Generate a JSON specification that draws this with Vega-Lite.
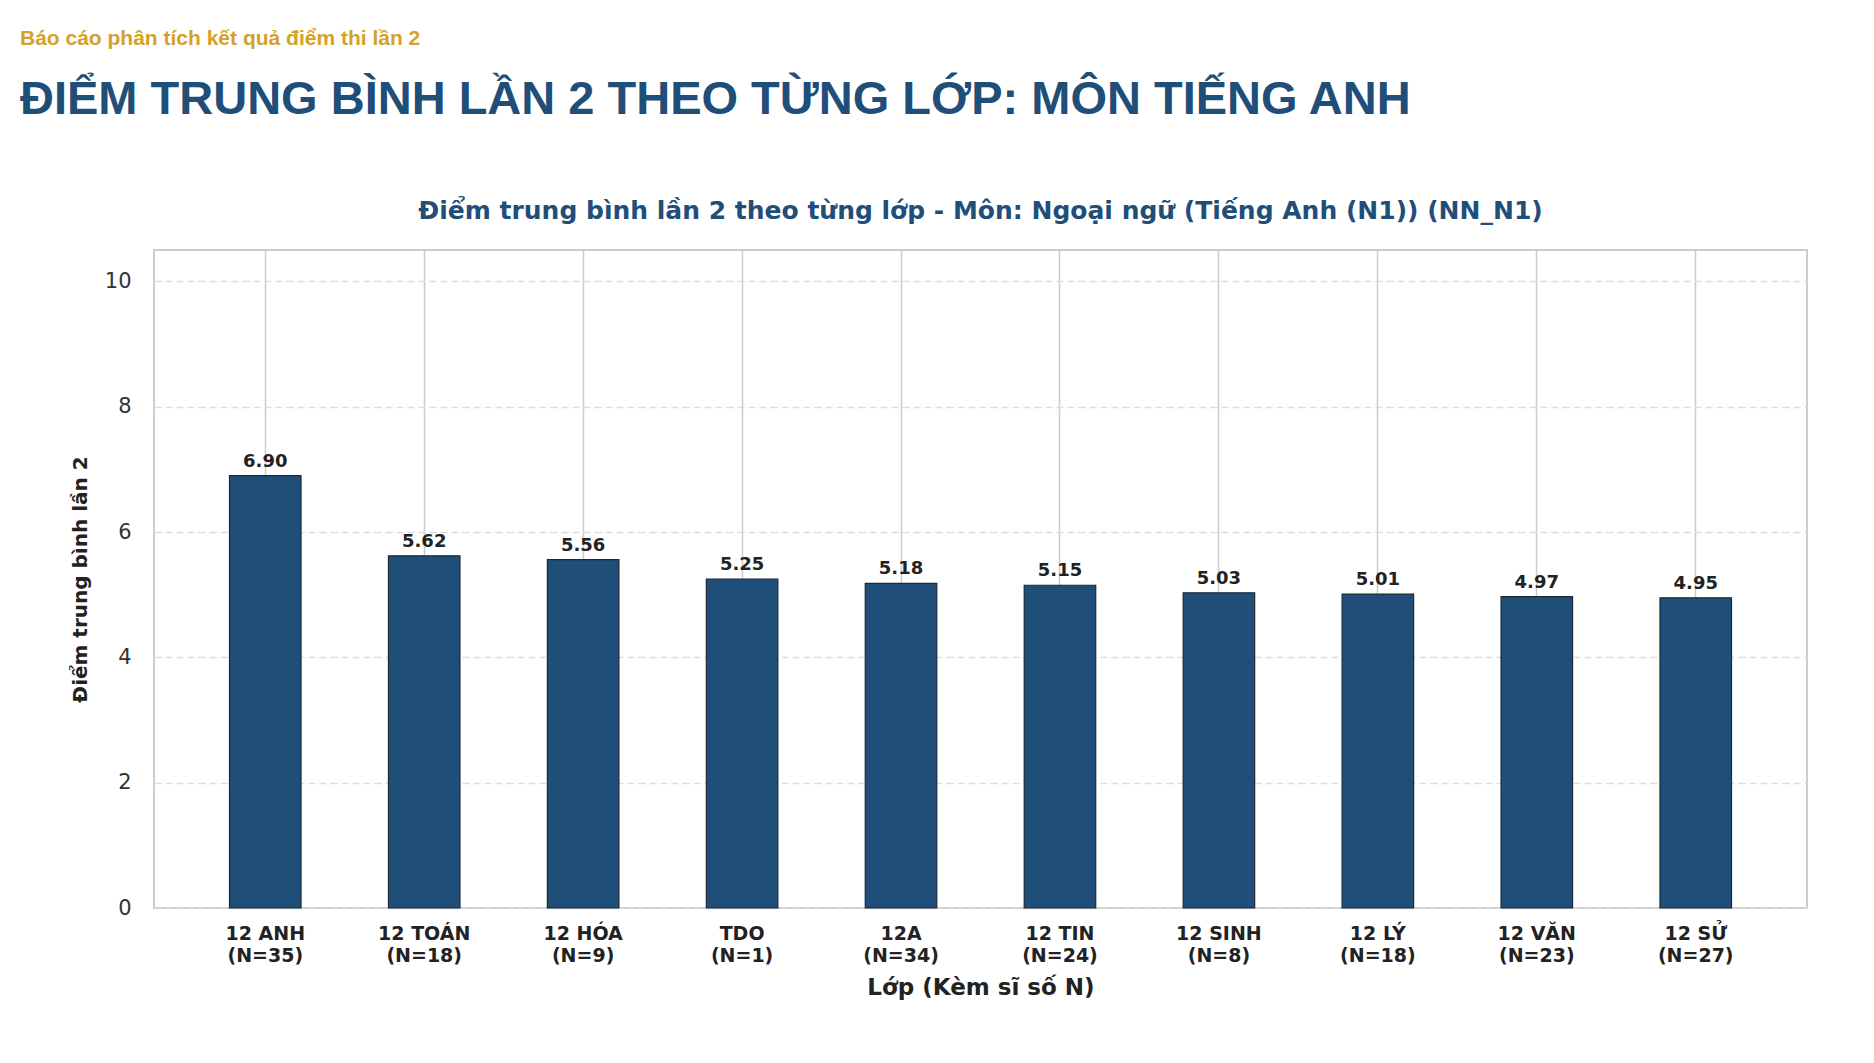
{
  "$schema": "https://vega.github.io/schema/vega-lite/v6.json",
  "background": "white",
  "padding": {"left": 20, "top": 28, "right": 0, "bottom": 0},
  "title": {
    "text": "Báo cáo phân tích kết quả điểm thi lần 2",
    "subtitle": "ĐIỂM TRUNG BÌNH LẦN 2 THEO TỪNG LỚP: MÔN TIẾNG ANH",
    "anchor": "start",
    "frame": "group",
    "dx": -134,
    "font": "Liberation Sans",
    "fontSize": 21,
    "fontWeight": "bold",
    "color": "#D4A12A",
    "subtitleFont": "Liberation Sans",
    "subtitleFontSize": 47,
    "subtitleFontWeight": "bold",
    "subtitleColor": "#1F4E79",
    "subtitlePadding": 28,
    "offset": 75
  },
  "config": {
    "view": {"stroke": "#cccccc", "strokeWidth": 2},
    "font": "DejaVu Sans"
  },
  "vconcat": [
    {
      "width": 1653,
      "height": 658,
      "title": {
        "text": "Điểm trung bình lần 2 theo từng lớp - Môn: Ngoại ngữ (Tiếng Anh (N1)) (NN_N1)",
        "anchor": "middle",
        "font": "DejaVu Sans",
        "fontSize": 25,
        "fontWeight": "bold",
        "color": "#1F4E79",
        "offset": 26
      },
      "data": {
        "values": [
          {"lop": "12 ANH", "si_so": 35, "nhan": "12 ANH\n(N=35)", "diem": 6.90},
          {"lop": "12 TOÁN", "si_so": 18, "nhan": "12 TOÁN\n(N=18)", "diem": 5.62},
          {"lop": "12 HÓA", "si_so": 9, "nhan": "12 HÓA\n(N=9)", "diem": 5.56},
          {"lop": "TDO", "si_so": 1, "nhan": "TDO\n(N=1)", "diem": 5.25},
          {"lop": "12A", "si_so": 34, "nhan": "12A\n(N=34)", "diem": 5.18},
          {"lop": "12 TIN", "si_so": 24, "nhan": "12 TIN\n(N=24)", "diem": 5.15},
          {"lop": "12 SINH", "si_so": 8, "nhan": "12 SINH\n(N=8)", "diem": 5.03},
          {"lop": "12 LÝ", "si_so": 18, "nhan": "12 LÝ\n(N=18)", "diem": 5.01},
          {"lop": "12 VĂN", "si_so": 23, "nhan": "12 VĂN\n(N=23)", "diem": 4.97},
          {"lop": "12 SỬ", "si_so": 27, "nhan": "12 SỬ\n(N=27)", "diem": 4.95}
        ]
      },
      "encoding": {
        "x": {
          "field": "nhan",
          "type": "nominal",
          "sort": null,
          "title": "Lớp (Kèm sĩ số N)",
          "scale": {"paddingInner": 0.55, "paddingOuter": 0.475},
          "axis": {
            "bandPosition": 0.5,
            "grid": true,
            "gridColor": "#cccccc",
            "gridWidth": 1.5,
            "ticks": false,
            "domain": false,
            "labelAngle": 0,
            "labelExpr": "split(datum.value, '\\n')",
            "labelFont": "DejaVu Sans",
            "labelFontSize": 19,
            "labelFontWeight": "bold",
            "labelColor": "#222222",
            "labelLineHeight": 22,
            "labelPadding": 16,
            "titleFont": "DejaVu Sans",
            "titleFontSize": 23,
            "titleFontWeight": "bold",
            "titleColor": "#222222",
            "titlePadding": 11
          }
        },
        "y": {
          "field": "diem",
          "type": "quantitative",
          "title": "Điểm trung bình lần 2",
          "scale": {"domain": [0, 10.5], "nice": false},
          "axis": {
            "values": [0, 2, 4, 6, 8, 10],
            "grid": true,
            "gridColor": "#dddddd",
            "gridWidth": 1.5,
            "gridDash": [7, 4],
            "ticks": false,
            "domain": false,
            "labelFont": "DejaVu Sans",
            "labelFontSize": 21,
            "labelColor": "#333333",
            "labelPadding": 23,
            "titleFont": "DejaVu Sans",
            "titleFontSize": 20,
            "titleFontWeight": "bold",
            "titleColor": "#222222",
            "titlePadding": 14
          }
        }
      },
      "layer": [
        {
          "mark": {"type": "bar", "color": "#1F4E79", "stroke": "#1b2a38", "strokeWidth": 1.2}
        },
        {
          "mark": {
            "type": "text",
            "baseline": "bottom",
            "dy": -5,
            "font": "DejaVu Sans",
            "fontSize": 18,
            "fontWeight": "bold",
            "color": "#222222"
          },
          "encoding": {
            "text": {"field": "diem", "type": "quantitative", "format": ".2f"}
          }
        }
      ]
    }
  ]
}
